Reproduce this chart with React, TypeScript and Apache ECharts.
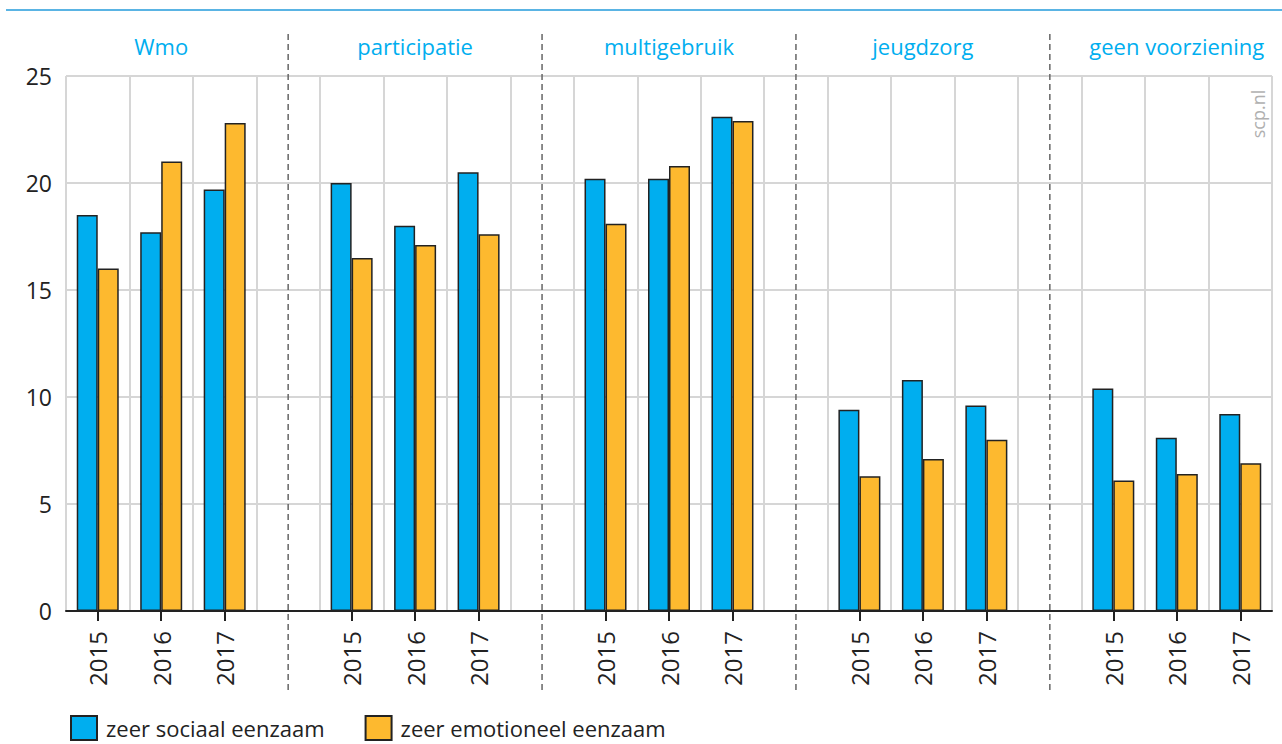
import React, { useEffect, useRef } from "react";
import * as echarts from "echarts";

const groups = ["Wmo", "participatie", "multigebruik", "jeugdzorg", "geen voorziening"];
const years = ["2015", "2016", "2017"];
const seriesNames = ["zeer sociaal eenzaam", "zeer emotioneel eenzaam"];
const sociaal = [
  [18.5, 17.7, 19.7],
  [20.0, 18.0, 20.5],
  [20.2, 20.2, 23.1],
  [9.4, 10.8, 9.6],
  [10.4, 8.1, 9.2],
];
const emotioneel = [
  [16.0, 21.0, 22.8],
  [16.5, 17.1, 17.6],
  [18.1, 20.8, 22.9],
  [6.3, 7.1, 8.0],
  [6.1, 6.4, 6.9],
];
const yMin = 0;
const yMax = 25;
const yInterval = 5;

const FONT = "Open Sans";
const TEXT = "#222";
const BLUE = "#00AEEF";
const ORANGE = "#FDB92F";
const TITLE = "#00AEEF";

function buildCategories() {
  const cats: string[] = [];
  groups.forEach((g, gi) => {
    years.forEach((y) => cats.push(g + "|" + y));
    if (gi < groups.length - 1) cats.push(g + "|gap");
  });
  return cats;
}

function buildData(values: number[][]) {
  const out: (number | string)[] = [];
  groups.forEach((g, gi) => {
    values[gi].forEach((v) => out.push(v));
    if (gi < groups.length - 1) out.push("-");
  });
  return out;
}

export default function App() {
  const ref = useRef<HTMLDivElement>(null);
  useEffect(() => {
    if (!ref.current) return;
    const chart = echarts.init(ref.current, undefined, { renderer: "svg" });
    const cats = buildCategories();
    const isYear = (_i: number, v: string) => !String(v).endsWith("|gap");
    const option: any = {
      animation: false,
      textStyle: { fontFamily: FONT },
      grid: { left: 66, right: 10, top: 76, bottom: 133, containLabel: false },
      legend: {
        left: 70,
        top: 715,
        padding: 0,
        itemWidth: 26,
        itemHeight: 24,
        itemGap: 40,
        icon: "rect",
        textStyle: {
          fontSize: 22,
          lineHeight: 24,
          color: TEXT,
          fontFamily: FONT,
          padding: [0, 0, 0, 4],
        },
        data: seriesNames,
      },
      xAxis: {
        type: "category",
        data: cats,
        boundaryGap: true,
        axisLine: { show: true, lineStyle: { color: TEXT, width: 2 } },
        axisTick: {
          show: true,
          alignWithLabel: true,
          interval: isYear,
          length: 10,
          lineStyle: { color: TEXT, width: 2 },
        },
        axisLabel: {
          interval: isYear,
          rotate: 90,
          margin: 20,
          fontSize: 24,
          color: TEXT,
          fontFamily: FONT,
          formatter: (v: string) => {
            const p = String(v).split("|")[1];
            return p === "gap" ? "" : p;
          },
        },
        splitLine: { show: true, interval: 0, lineStyle: { color: "#d6d6d6", width: 2 } },
      },
      yAxis: {
        type: "value",
        min: yMin,
        max: yMax,
        interval: yInterval,
        axisLine: { show: false },
        axisTick: { show: false },
        axisLabel: { fontSize: 23, color: TEXT, margin: 14, fontFamily: FONT },
        splitLine: { show: true, lineStyle: { color: "#d6d6d6", width: 2 } },
      },
      series: [
        {
          name: seriesNames[0],
          type: "bar",
          data: buildData(sociaal),
          barWidth: 21,
          barGap: "0%",
          itemStyle: { color: BLUE, borderColor: TEXT, borderWidth: 1.5 },
        },
        {
          name: seriesNames[1],
          type: "bar",
          data: buildData(emotioneel),
          barWidth: 21,
          barGap: "0%",
          itemStyle: { color: ORANGE, borderColor: TEXT, borderWidth: 1.5 },
        },
      ],
    };
    chart.setOption(option);

    const graphics: any[] = [];
    graphics.push({
      type: "line",
      shape: { x1: 6, y1: 10, x2: 1282, y2: 10 },
      style: { stroke: "#5AB4E4", lineWidth: 2 },
      silent: true,
    });
    groups.forEach((g, gi) => {
      const midIdx = gi * 4 + 1;
      const px = chart.convertToPixel({ xAxisIndex: 0 }, midIdx) as number;
      graphics.push({
        type: "text",
        x: px,
        y: 46,
        style: {
          text: g,
          fill: TITLE,
          fontSize: 22,
          fontFamily: FONT,
          align: "center",
          verticalAlign: "middle",
        },
      });
      if (gi < groups.length - 1) {
        const gx = chart.convertToPixel({ xAxisIndex: 0 }, gi * 4 + 3) as number;
        graphics.push({
          type: "line",
          shape: { x1: gx, y1: 34, x2: gx, y2: 690 },
          style: { stroke: "#666", lineWidth: 1.5, lineDash: [6, 4] },
          silent: true,
        });
      }
    });
    graphics.push({
      type: "text",
      x: 1258,
      y: 114,
      rotation: Math.PI / 2,
      style: {
        text: "scp.nl",
        fill: "#b0b0b0",
        fontSize: 18,
        fontFamily: FONT,
        align: "center",
        verticalAlign: "middle",
      },
    });
    chart.setOption({ graphic: graphics });

    return () => chart.dispose();
  }, []);
  return (
    <div
      ref={ref}
      style={{ position: "fixed", left: 0, top: 0, width: 1282, height: 744, background: "#fff" }}
    />
  );
}
